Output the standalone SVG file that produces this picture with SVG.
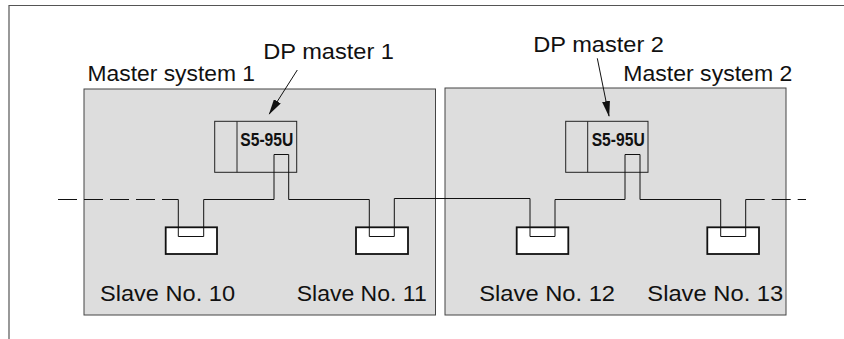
<svg xmlns="http://www.w3.org/2000/svg" width="844" height="339" viewBox="0 0 844 339">
<style>
.frame{fill:none;stroke:#555;stroke-width:1.2}
.sys{fill:#dddddd;stroke:#444;stroke-width:1}
.lbl{font-family:"Liberation Sans",Arial,sans-serif;font-size:21.5px;fill:#111}
.plc{fill:none;stroke:#222;stroke-width:1}
.plctxt{font-family:"Liberation Sans",Arial,sans-serif;font-size:18px;font-weight:bold;fill:#111}
.slave{fill:#fff;stroke:#111;stroke-width:1.8}
.bus{fill:none;stroke:#111;stroke-width:1}
.dash{fill:none;stroke:#111;stroke-width:1;stroke-dasharray:19 7}
.lead{fill:none;stroke:#111;stroke-width:1}
</style>
<defs>
<marker id="ah" markerWidth="16" markerHeight="8" refX="15" refY="4" orient="auto" markerUnits="userSpaceOnUse">
<path d="M0,0 L16,4 L0,8 Z" fill="#111"/>
</marker>
</defs>
<path class="frame" d="M9,339 V5.5 H844"/>
<g id="master-system-1">
<rect class="sys" x="84" y="89" width="351.5" height="226"/>
<text class="lbl" x="87.5" y="81" textLength="167.5" lengthAdjust="spacingAndGlyphs">Master system 1</text>
</g>
<g id="master-system-2">
<rect class="sys" x="445" y="88" width="341" height="227"/>
<text class="lbl" x="623.3" y="80.5" textLength="169" lengthAdjust="spacingAndGlyphs">Master system 2</text>
</g>
<g id="dp-master-1">
<rect class="plc" x="214.7" y="121.3" width="82" height="51"/>
<line class="plc" x1="237" y1="121.3" x2="237" y2="172.3"/>
<text class="plctxt" x="240.3" y="146" textLength="53" lengthAdjust="spacingAndGlyphs">S5-95U</text>
<text class="lbl" x="263.3" y="59.3" textLength="130.7" lengthAdjust="spacingAndGlyphs">DP master 1</text>
</g>
<g id="dp-master-2">
<rect class="plc" x="565.7" y="121.3" width="82.3" height="51"/>
<line class="plc" x1="587.7" y1="121.3" x2="587.7" y2="172.3"/>
<text class="plctxt" x="591.7" y="146" textLength="53" lengthAdjust="spacingAndGlyphs">S5-95U</text>
<text class="lbl" x="533.3" y="52" textLength="130.7" lengthAdjust="spacingAndGlyphs">DP master 2</text>
</g>
<g id="slave-10">
<rect class="slave" x="165.7" y="227.3" width="51.3" height="26.7"/>
<text class="lbl" x="100" y="300.5" textLength="135" lengthAdjust="spacingAndGlyphs">Slave No. 10</text>
</g>
<g id="slave-11">
<rect class="slave" x="356" y="227.3" width="52" height="26.7"/>
<text class="lbl" x="296.7" y="300.5" textLength="130" lengthAdjust="spacingAndGlyphs">Slave No. 11</text>
</g>
<g id="slave-12">
<rect class="slave" x="516.7" y="227.3" width="51.6" height="26.7"/>
<text class="lbl" x="479.3" y="300.5" textLength="135.7" lengthAdjust="spacingAndGlyphs">Slave No. 12</text>
</g>
<g id="slave-13">
<rect class="slave" x="707.3" y="227.3" width="51.7" height="26.7"/>
<text class="lbl" x="647.3" y="300.5" textLength="136" lengthAdjust="spacingAndGlyphs">Slave No. 13</text>
</g>
<g id="connectors">
<path class="dash" d="M58,199.5 H178.3"/>
<path class="bus" d="M178.3,199.5 V236.5 H203.7 V199.5 H274 V154.5 H288.7 V199.5 H369.3 V236.5 H394.3 V198.5 H530 V236.5 H555 V199.5 H625 V154.5 H640 V199.5 H720.7 V236.5 H745.7 V199.5"/>
<path class="dash" d="M745.7,199.5 H806"/>
<line class="lead" x1="297.3" y1="70" x2="269.3" y2="114" marker-end="url(#ah)"/>
<line class="lead" x1="597.3" y1="58.3" x2="609" y2="116" marker-end="url(#ah)"/>
</g>
</svg>
